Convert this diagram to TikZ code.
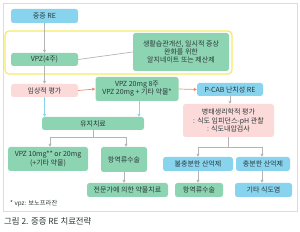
\documentclass[tikz,border=0pt]{standalone}
\usepackage{fontspec}
\setmainfont{Noto Sans CJK KR}
\usetikzlibrary{arrows.meta}
\definecolor{vert}{HTML}{8DD4B2}
\definecolor{bleu}{HTML}{88D4EF}
\definecolor{rose}{HTML}{FCDADA}
\definecolor{jaune}{HTML}{F4EC66}
\definecolor{saumon}{HTML}{F28A6C}
\definecolor{gris}{HTML}{B4B4B4}
\definecolor{cadre}{HTML}{DCDCDC}
\definecolor{texte}{HTML}{2A3838}
\begin{document}
\begin{tikzpicture}[x=1pt,y=-1pt]
		% Styles
		\tikzstyle{boite}=[rounded corners=2.5pt,inner sep=1pt,align=center,text=texte,font=\fontsize{7}{8.2}\selectfont]
		\tikzstyle{verte}=[boite,fill=vert]
		\tikzstyle{bleue}=[boite,fill=bleu]
		\tikzstyle{rosee}=[boite,fill=rose]
		\tikzstyle{fleche}=[-{Triangle[length=3pt,width=3pt]},line width=0.7pt,gris]
		\tikzstyle{flechebleue}=[fleche,bleu]
		\tikzstyle{flecheorange}=[fleche,saumon]
		\tikzstyle{trait}=[line width=0.7pt,gris]
		\tikzstyle{commentaire}=[anchor=west,inner sep=0pt,text=texte]
		\useasboundingbox (0,0) rectangle (300,232);
		% Cadres
		\draw[cadre,line width=0.6pt] (3,3) rectangle (297,211);
		\draw[jaune,line width=1.3pt,rounded corners=4pt] (5,31) rectangle (232,74);
		% Noeuds
		\node[bleue,minimum width=67pt,minimum height=14pt] (RE) at (44.5,16) {중증 RE};
		\node[verte,minimum width=67pt,minimum height=13pt] (VPZ4) at (44.5,59.5) {VPZ(4주)};
		\node[verte,minimum width=96pt,minimum height=38pt] (mode) at (181,52) {생활습관개선, 일시적 증상\\완화를 위한\\알지네이트 또는 제산제};
		\node[rosee,minimum width=67pt,minimum height=13pt] (clinique) at (44.5,90.5) {임상적 평가};
		\node[verte,minimum width=83pt,minimum height=24pt] (VPZ20) at (137,89) {VPZ 20mg 8주\\VPZ 20mg + 기타 약물*};
		\node[bleue,minimum width=66pt,minimum height=13pt] (PCAB) at (230,89.5) {P-CAB 난치성 RE};
		\node[verte,minimum width=102pt,minimum height=13pt] (maintien) at (93,123.5) {유지치료};
		\node[verte,minimum width=80pt,minimum height=24pt] (VPZ10) at (48,159) {VPZ 10mg** or 20mg\\(+기타 약물)};
		\node[verte,minimum width=46pt,minimum height=25pt] (chirA) at (124,159.5) {항역류수술};
		\node[verte,minimum width=81pt,minimum height=14pt] (expert) at (127.5,190) {전문가에 의한 약물치료};
		\node[rosee,minimum width=91pt,minimum height=33pt] (physio) at (228.5,120.5) {병태생리학적 평가\\: 식도 임피던스-pH 관찰\\: 식도내압검사};
		\node[bleue,minimum width=70pt,minimum height=14pt] (insuff) at (198,164) {불충분한 산억제};
		\node[bleue,minimum width=54pt,minimum height=14pt] (suff) at (263,164) {충분한 산억제};
		\node[verte,minimum width=48pt,minimum height=14pt] (chirB) at (199,190) {항역류수술};
		\node[bleue,minimum width=57pt,minimum height=14pt] (autre) at (263.5,190) {기타 식도염};
		%
		\node[commentaire,font=\fontsize{6.3}{7}\selectfont] (note) at (10,204) {* vpz: 보노프라잔};
		\node[commentaire,font=\fontsize{8.4}{9}\selectfont] (titre) at (4,221) {그림 2. 중증 RE 치료전략};
		% Arcs
		\draw[fleche] (RE.south)--(VPZ4.north);
		\draw[trait] (VPZ4.east)--(mode.west);
		\draw[fleche] (VPZ4.south)--(clinique.north);
		\draw[flecheorange] (clinique.east)--(VPZ20.west);
		\draw[flecheorange] (VPZ20.east)--(PCAB.west);
		\draw[flechebleue] (clinique.south)--(clinique.south |- maintien.north);
		\draw[flechebleue] ([xshift=2pt]VPZ20.south)--([xshift=2pt]VPZ20.south |- maintien.north);
		\draw[fleche] (maintien.south)--++(0,7) -| ([xshift=2pt]VPZ10.north);
		\draw[fleche] (maintien.south)--++(0,7) -| ([xshift=2pt]chirA.north);
		\draw[fleche] (chirA.south)--(chirA.south |- expert.north);
		\draw[fleche] (PCAB.south)--(PCAB.south |- physio.north);
		\draw[fleche] (physio.south)--++(0,10) -| (insuff.north);
		\draw[fleche] (physio.south)--++(0,10) -| ([xshift=-1pt]suff.north);
		\draw[fleche] (insuff.south)--(insuff.south |- chirB.north);
		\draw[fleche] ([xshift=-1pt]suff.south)--([xshift=-1pt]suff.south |- autre.north);
\end{tikzpicture}
\end{document}
